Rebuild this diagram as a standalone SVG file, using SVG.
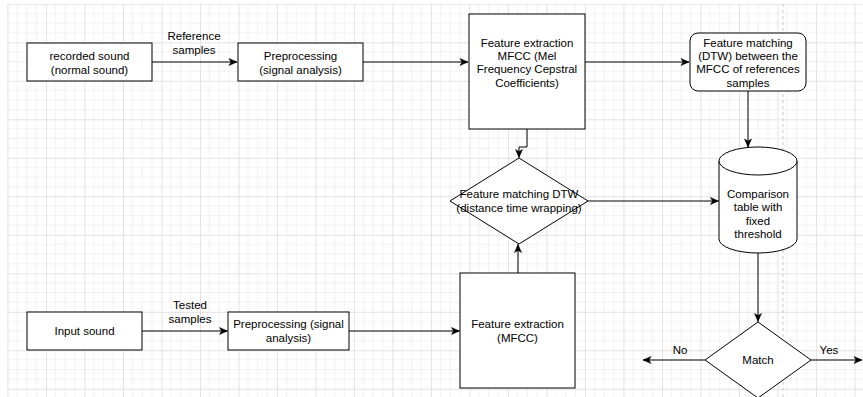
<svg xmlns="http://www.w3.org/2000/svg" width="863" height="397" viewBox="0 0 863 397">
  <defs>
    <style>
      .box { fill: #ffffff; stroke: #000000; stroke-width: 1; }
      .t { font-family: "Liberation Sans", Arial, sans-serif; font-size: 11.5px; fill: #000000; text-anchor: middle; }
      .edge { fill: none; stroke: #000000; stroke-width: 1; marker-end: url(#arrow); }
      .minor { stroke: #f1f1f1; stroke-width: 1; fill: none; }
      .major { stroke: #e2e2e2; stroke-width: 1; fill: none; }
    </style>
    <pattern id="grid" x="7.45" y="3.8" width="38.5" height="38.5" patternUnits="userSpaceOnUse">
      <path class="minor" d="M9.625 0V38.5M19.25 0V38.5M28.875 0V38.5M0 9.625H38.5M0 19.25H38.5M0 28.875H38.5"/>
      <path class="major" d="M0.5 0V38.5M0 0.5H38.5"/>
    </pattern>
    <marker id="arrow" markerUnits="userSpaceOnUse" markerWidth="9" markerHeight="8" refX="8" refY="3.5" orient="auto" overflow="visible">
      <path d="M0,0 L8,3.5 L0,7 L2,3.5 z" fill="#000000" stroke="#000000" stroke-width="0.5"/>
    </marker>
  </defs>

  <rect x="0" y="0" width="863" height="397" fill="#ffffff"/>
  <rect x="7" y="4" width="856" height="393" fill="url(#grid)"/>
  <line x1="783" y1="4" x2="783" y2="397" stroke="#c8c8c8" stroke-width="1" stroke-dasharray="3 3"/>

  <g id="connectors">
    <path class="edge" d="M152 62H237"/>
    <path class="edge" d="M363 62H468"/>
    <path class="edge" d="M585 62H689"/>
    <path class="edge" d="M748 91V147"/>
    <path class="edge" d="M527 129V147H519V157.5"/>
    <path class="edge" d="M518 273V244.5"/>
    <path class="edge" d="M588 201H718.5"/>
    <path class="edge" d="M142 331H227.5"/>
    <path class="edge" d="M349 331H459.5"/>
    <path class="edge" d="M758 253V321.5"/>
    <path class="edge" d="M705 360H643"/>
    <path class="edge" d="M811 360H862"/>
    <text class="t" x="194" y="39.5">Reference</text>
    <text class="t" x="194" y="53.5">samples</text>
    <text class="t" x="190" y="309">Tested</text>
    <text class="t" x="190" y="323">samples</text>
    <text class="t" x="680" y="354">No</text>
    <text class="t" x="829" y="354">Yes</text>
  </g>

  <g id="recorded-sound">
    <rect class="box" x="27" y="43" width="125" height="38"/>
    <text class="t" x="89.5" y="59.5">recorded sound</text>
    <text class="t" x="89.5" y="73.5">(normal sound)</text>
  </g>

  <g id="preprocessing-ref">
    <rect class="box" x="238" y="43" width="125" height="38"/>
    <text class="t" x="300.5" y="59.5">Preprocessing</text>
    <text class="t" x="300.5" y="73.5">(signal analysis)</text>
  </g>

  <g id="feature-extraction-ref">
    <rect class="box" x="469" y="14" width="116" height="115"/>
    <text class="t" x="527" y="46.5">Feature extraction</text>
    <text class="t" x="527" y="60">MFCC (Mel</text>
    <text class="t" x="527" y="73.3">Frequency Cepstral</text>
    <text class="t" x="527" y="86.6">Coefficients)</text>
  </g>

  <g id="feature-matching-ref">
    <rect class="box" x="690" y="33" width="116" height="58" rx="8" ry="8"/>
    <text class="t" x="748" y="46.6">Feature matching</text>
    <text class="t" x="748" y="60">(DTW) between the</text>
    <text class="t" x="748" y="73.4">MFCC of references</text>
    <text class="t" x="748" y="86.8">samples</text>
  </g>

  <g id="comparison-table">
    <path class="box" d="M719 161A39 14 0 0 1 797 161V239A39 14 0 0 1 719 239Z"/>
    <path class="box" fill="none" d="M719 161A39 14 0 0 0 797 161"/>
    <text class="t" x="758" y="198">Comparison</text>
    <text class="t" x="758" y="211.4">table with</text>
    <text class="t" x="758" y="224.8">fixed</text>
    <text class="t" x="758" y="238.2">threshold</text>
  </g>

  <g id="feature-matching-dtw">
    <polygon class="box" points="519,158 588,201 519,244 450,201"/>
    <text class="t" x="519" y="198">Feature matching DTW</text>
    <text class="t" x="519" y="212">(distance time wrapping)</text>
  </g>

  <g id="feature-extraction-test">
    <rect class="box" x="460" y="273" width="115" height="115"/>
    <text class="t" x="517.5" y="328">Feature extraction</text>
    <text class="t" x="517.5" y="342">(MFCC)</text>
  </g>

  <g id="input-sound">
    <rect class="box" x="27" y="312" width="115" height="38"/>
    <text class="t" x="84.5" y="335">Input sound</text>
  </g>

  <g id="preprocessing-test">
    <rect class="box" x="228" y="312" width="121" height="38"/>
    <text class="t" x="288.5" y="328">Preprocessing (signal</text>
    <text class="t" x="288.5" y="342">analysis)</text>
  </g>

  <g id="match">
    <polygon class="box" points="758,322 811,360 758,398 705,360"/>
    <text class="t" x="758" y="364">Match</text>
  </g>
</svg>
